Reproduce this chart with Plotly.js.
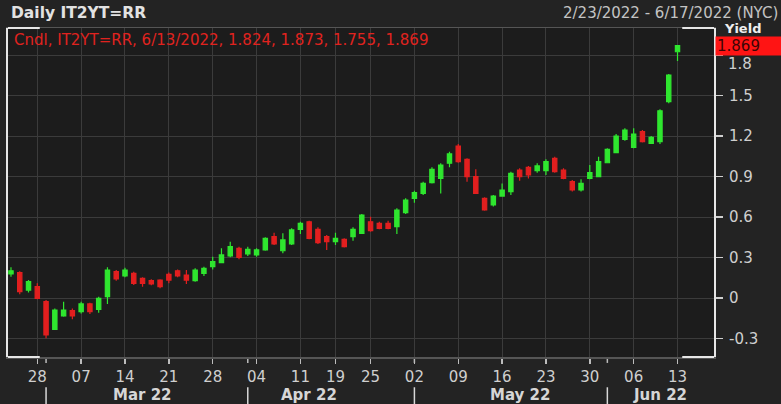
<!DOCTYPE html>
<html>
<head>
<meta charset="utf-8">
<script src="https://cdn.plot.ly/plotly-3.0.1.min.js"></script>
<style>
  html, body { margin: 0; padding: 0; background: #232323; }
  #chart { width: 781px; height: 404px; }
</style>
</head>
<body>
<div id="chart"></div>
<script>
// ---- Data ----
const dates = [
  "2022-02-23","2022-02-24","2022-02-25","2022-02-28",
  "2022-03-01","2022-03-02","2022-03-03","2022-03-04",
  "2022-03-07","2022-03-08","2022-03-09","2022-03-10","2022-03-11",
  "2022-03-14","2022-03-15","2022-03-16","2022-03-17","2022-03-18",
  "2022-03-21","2022-03-22","2022-03-23","2022-03-24","2022-03-25",
  "2022-03-28","2022-03-29","2022-03-30","2022-03-31","2022-04-01",
  "2022-04-04","2022-04-05","2022-04-06","2022-04-07","2022-04-08",
  "2022-04-11","2022-04-12","2022-04-13","2022-04-14",
  "2022-04-19","2022-04-20","2022-04-21","2022-04-22",
  "2022-04-25","2022-04-26","2022-04-27","2022-04-28","2022-04-29",
  "2022-05-02","2022-05-03","2022-05-04","2022-05-05","2022-05-06",
  "2022-05-09","2022-05-10","2022-05-11","2022-05-12","2022-05-13",
  "2022-05-16","2022-05-17","2022-05-18","2022-05-19","2022-05-20",
  "2022-05-23","2022-05-24","2022-05-25","2022-05-26","2022-05-27",
  "2022-05-30","2022-05-31","2022-06-01","2022-06-02","2022-06-03",
  "2022-06-06","2022-06-07","2022-06-08","2022-06-09","2022-06-10",
  "2022-06-13"
];
const openVals = [
  0.178, 0.188, 0.059, 0.084,
  -0.027, -0.232, -0.133, -0.094,
  -0.101, -0.044, -0.084, 0.010, 0.195,
  0.163, 0.183, 0.146, 0.128, 0.133,
  0.175, 0.202, 0.170, 0.128, 0.183,
  0.232, 0.262, 0.311, 0.368, 0.326,
  0.319, 0.356, 0.454, 0.350, 0.400,
  0.509, 0.565, 0.509, 0.454,
  0.417, 0.435, 0.454, 0.479,
  0.565, 0.553, 0.553, 0.528, 0.632,
  0.738, 0.775, 0.854, 0.886, 0.998,
  1.126, 1.027, 0.899, 0.738, 0.689,
  0.755, 0.788, 0.948, 0.968, 0.943,
  0.943, 1.035, 0.948, 0.862, 0.800,
  0.886, 0.899, 1.002, 1.077, 1.175,
  1.116, 1.232, 1.146, 1.158, 1.454,
  1.824
];
const highVals = [
  0.227, 0.198, 0.133, 0.109,
  -0.015, -0.077, -0.027, -0.077,
  -0.027, -0.035, 0.010, 0.227, 0.207,
  0.225, 0.195, 0.153, 0.138, 0.138,
  0.188, 0.212, 0.207, 0.220, 0.232,
  0.306, 0.368, 0.417, 0.380, 0.380,
  0.368, 0.450, 0.484, 0.479, 0.516,
  0.565, 0.573, 0.524, 0.467,
  0.484, 0.442, 0.524, 0.622,
  0.602, 0.565, 0.573, 0.664, 0.738,
  0.795, 0.862, 0.968, 0.998, 1.084,
  1.141, 1.035, 0.953, 0.746, 0.763,
  0.849, 0.936, 0.961, 0.978, 0.998,
  1.027, 1.047, 0.961, 0.874, 0.879,
  0.985, 1.047, 1.109, 1.215, 1.257,
  1.257, 1.244, 1.200, 1.398, 1.659,
  1.873
];
const lowVals = [
  0.158, 0.027, 0.040, -0.010,
  -0.299, -0.237, -0.138, -0.158,
  -0.114, -0.119, -0.109, -0.044, 0.128,
  0.153, 0.096, 0.084, 0.094, 0.072,
  0.109, 0.153, 0.104, 0.121, 0.163,
  0.212, 0.257, 0.301, 0.287, 0.311,
  0.306, 0.350, 0.393, 0.331, 0.393,
  0.474, 0.435, 0.400, 0.356,
  0.393, 0.375, 0.424, 0.474,
  0.491, 0.509, 0.509, 0.474, 0.622,
  0.706, 0.763, 0.849, 0.775, 0.968,
  1.002, 0.862, 0.770, 0.647, 0.677,
  0.751, 0.763, 0.869, 0.886, 0.928,
  0.911, 0.928, 0.879, 0.788, 0.788,
  0.879, 0.894, 0.998, 1.072, 1.165,
  1.109, 1.151, 1.141, 1.141, 1.442,
  1.755
];
const closeVals = [
  0.202, 0.047, 0.121, -0.003,
  -0.274, -0.089, -0.089, -0.133,
  -0.044, -0.101, -0.003, 0.207, 0.141,
  0.207, 0.109, 0.109, 0.104, 0.084,
  0.133, 0.163, 0.133, 0.207, 0.220,
  0.269, 0.319, 0.380, 0.301, 0.361,
  0.356, 0.442, 0.400, 0.430, 0.504,
  0.553, 0.442, 0.410, 0.417,
  0.442, 0.380, 0.509, 0.615,
  0.499, 0.516, 0.516, 0.652, 0.726,
  0.780, 0.849, 0.953, 0.985, 1.067,
  1.010, 0.899, 0.775, 0.652, 0.755,
  0.800, 0.923, 0.899, 0.911, 0.978,
  1.010, 0.936, 0.886, 0.800, 0.849,
  0.928, 1.010, 1.101, 1.200, 1.244,
  1.215, 1.158, 1.190, 1.387, 1.652,
  1.869
];

// Axis ticks / labels
const weekTickDates = ["2022-02-28","2022-03-07","2022-03-14","2022-03-21","2022-03-28",
  "2022-04-04","2022-04-11","2022-04-19","2022-04-25","2022-05-02","2022-05-09",
  "2022-05-16","2022-05-23","2022-05-30","2022-06-06","2022-06-13"];
const weekTickText = ["28","07","14","21","28","04","11","19","25","02","09","16","23","30","06","13"];
const monthStartDates = ["2022-03-01","2022-04-01","2022-05-02","2022-06-01"];
const monthLabelDates = ["2022-03-16","2022-04-12","2022-05-18","2022-06-09"];
const monthLabels = ["Mar 22","Apr 22","May 22","Jun 22"];
const yTickVals = [-0.3, 0, 0.3, 0.6, 0.9, 1.2, 1.5, 1.8];
const yTickText = ["-0.3","0","0.3","0.6","0.9","1.2","1.5",""];

const titleText = "Daily IT2YT=RR";
const rangeText = "2/23/2022 - 6/17/2022 (NYC)";
const lastIdx = dates.length - 1;
const legendText = "Cndl, IT2YT=RR, 6/13/2022, " + [openVals[lastIdx], highVals[lastIdx], lowVals[lastIdx], closeVals[lastIdx]].map(v => v.toFixed(3)).join(", ");

// ---- Styles ----
const FONT = "DejaVu Sans, Verdana, sans-serif";
const GREEN = "#2fe62f";
const RED = "#e21f1f";
const TXT = "#cfcfcf";
const GRID = "#3b3b3b";

const trace = {
  type: "candlestick",
  x: dates,
  open: openVals, high: highVals, low: lowVals, close: closeVals,
  increasing: { line: { color: GREEN, width: 1.2 }, fillcolor: GREEN },
  decreasing: { line: { color: RED, width: 1.2 }, fillcolor: RED },
  whiskerwidth: 0,
  hoverinfo: "skip"
};

const shapes = [];
// month separators under the tick labels
monthStartDates.forEach(d => {
  shapes.push({ type: "line", xref: "x", yref: "paper", x0: d, x1: d, y0: -0.092, y1: -0.15,
    line: { color: "#d8d8d8", width: 1.5 } });
});
// small month-start tick marks
monthStartDates.forEach(d => {
  shapes.push({ type: "line", xref: "x", yref: "paper", x0: d, x1: d, y0: -0.006, y1: -0.018,
    line: { color: "#bdbdbd", width: 1.5 } });
});
// white frame corners
[[0, 0.045, 1], [0.955, 1, 1], [0, 0.045, 0], [0.955, 1, 0]].forEach(s => {
  shapes.push({ type: "line", xref: "paper", yref: "paper", x0: s[0], x1: s[1], y0: s[2], y1: s[2],
    line: { color: "#e6e6e6", width: 2 } });
});

const annotations = [
  { text: "<b>" + titleText + "</b>", xref: "paper", yref: "paper", x: 0, y: 1.046, xshift: 1,
    xanchor: "left", yanchor: "middle", showarrow: false, font: { family: FONT, size: 15.5, color: "#e2e2e2" } },
  { text: rangeText, xref: "paper", yref: "paper", x: 1.0935, y: 1.046,
    xanchor: "right", yanchor: "middle", showarrow: false, font: { family: FONT, size: 15, color: "#c4c4c4" } },
  { text: legendText, xref: "paper", yref: "paper", x: 0, xshift: 4, y: 0.9635,
    xanchor: "left", yanchor: "middle", showarrow: false, font: { family: FONT, size: 15, color: "#e0231f" } },
  { text: "<b>Yield</b>", xref: "paper", yref: "paper", x: 1.0397, y: 1.0,
    xanchor: "center", yanchor: "middle", showarrow: false, font: { family: FONT, size: 13, color: "#eeeeee" } },
  { text: "1.8", xref: "paper", yref: "y", x: 1, xshift: 12, y: 1.8, yshift: -9,
    xanchor: "left", yanchor: "middle", showarrow: false, font: { family: FONT, size: 15, color: TXT } },
  { text: closeVals[lastIdx].toFixed(3), xref: "paper", yref: "y", x: 1, xshift: 1, y: closeVals[lastIdx],
    xanchor: "left", yanchor: "middle", showarrow: false, width: 64, height: 16, align: "left",
    bgcolor: "#ff1414", borderpad: 1, font: { family: FONT, size: 15, color: "#3c0505" } }
];
monthLabels.forEach((m, i) => {
  annotations.push({ text: "<b>" + m + "</b>", xref: "x", yref: "paper", x: monthLabelDates[i], y: -0.115,
    xanchor: "center", yanchor: "middle", showarrow: false, font: { family: FONT, size: 15, color: "#d6d6d6" } });
});

const layout = {
  width: 781, height: 404,
  margin: { l: 8, r: 67, t: 28, b: 47 },
  paper_bgcolor: "#232323",
  plot_bgcolor: "#1c1c1c",
  showlegend: false,
  hovermode: false,
  xaxis: {
    type: "category",
    range: [-0.34, 80.16],
    rangeslider: { visible: false },
    tickmode: "array",
    tickvals: weekTickDates,
    ticktext: weekTickText,
    ticks: "outside", ticklen: 5, tickcolor: "#bdbdbd", tickwidth: 1.5,
    tickfont: { family: FONT, size: 15, color: TXT },
    ticklabelstandoff: 0,
    showgrid: true, gridcolor: GRID, gridwidth: 1,
    showline: true, linecolor: "#555555", linewidth: 1.5, mirror: true,
    zeroline: false, fixedrange: true
  },
  yaxis: {
    side: "right",
    range: [-0.437, 2.0],
    tickmode: "array",
    tickvals: yTickVals,
    ticktext: yTickText,
    ticks: "outside", ticklen: 7, tickcolor: "#d0d0d0", tickwidth: 1.5,
    tickfont: { family: FONT, size: 15, color: TXT },
    ticklabelstandoff: 3,
    showgrid: true, gridcolor: GRID, gridwidth: 1,
    showline: true, linecolor: "#e6e6e6", linewidth: 2, mirror: true,
    zeroline: false, fixedrange: true
  },
  shapes: shapes,
  annotations: annotations
};

Plotly.newPlot("chart", [trace], layout, { displayModeBar: false, staticPlot: true });
</script>
</body>
</html>
